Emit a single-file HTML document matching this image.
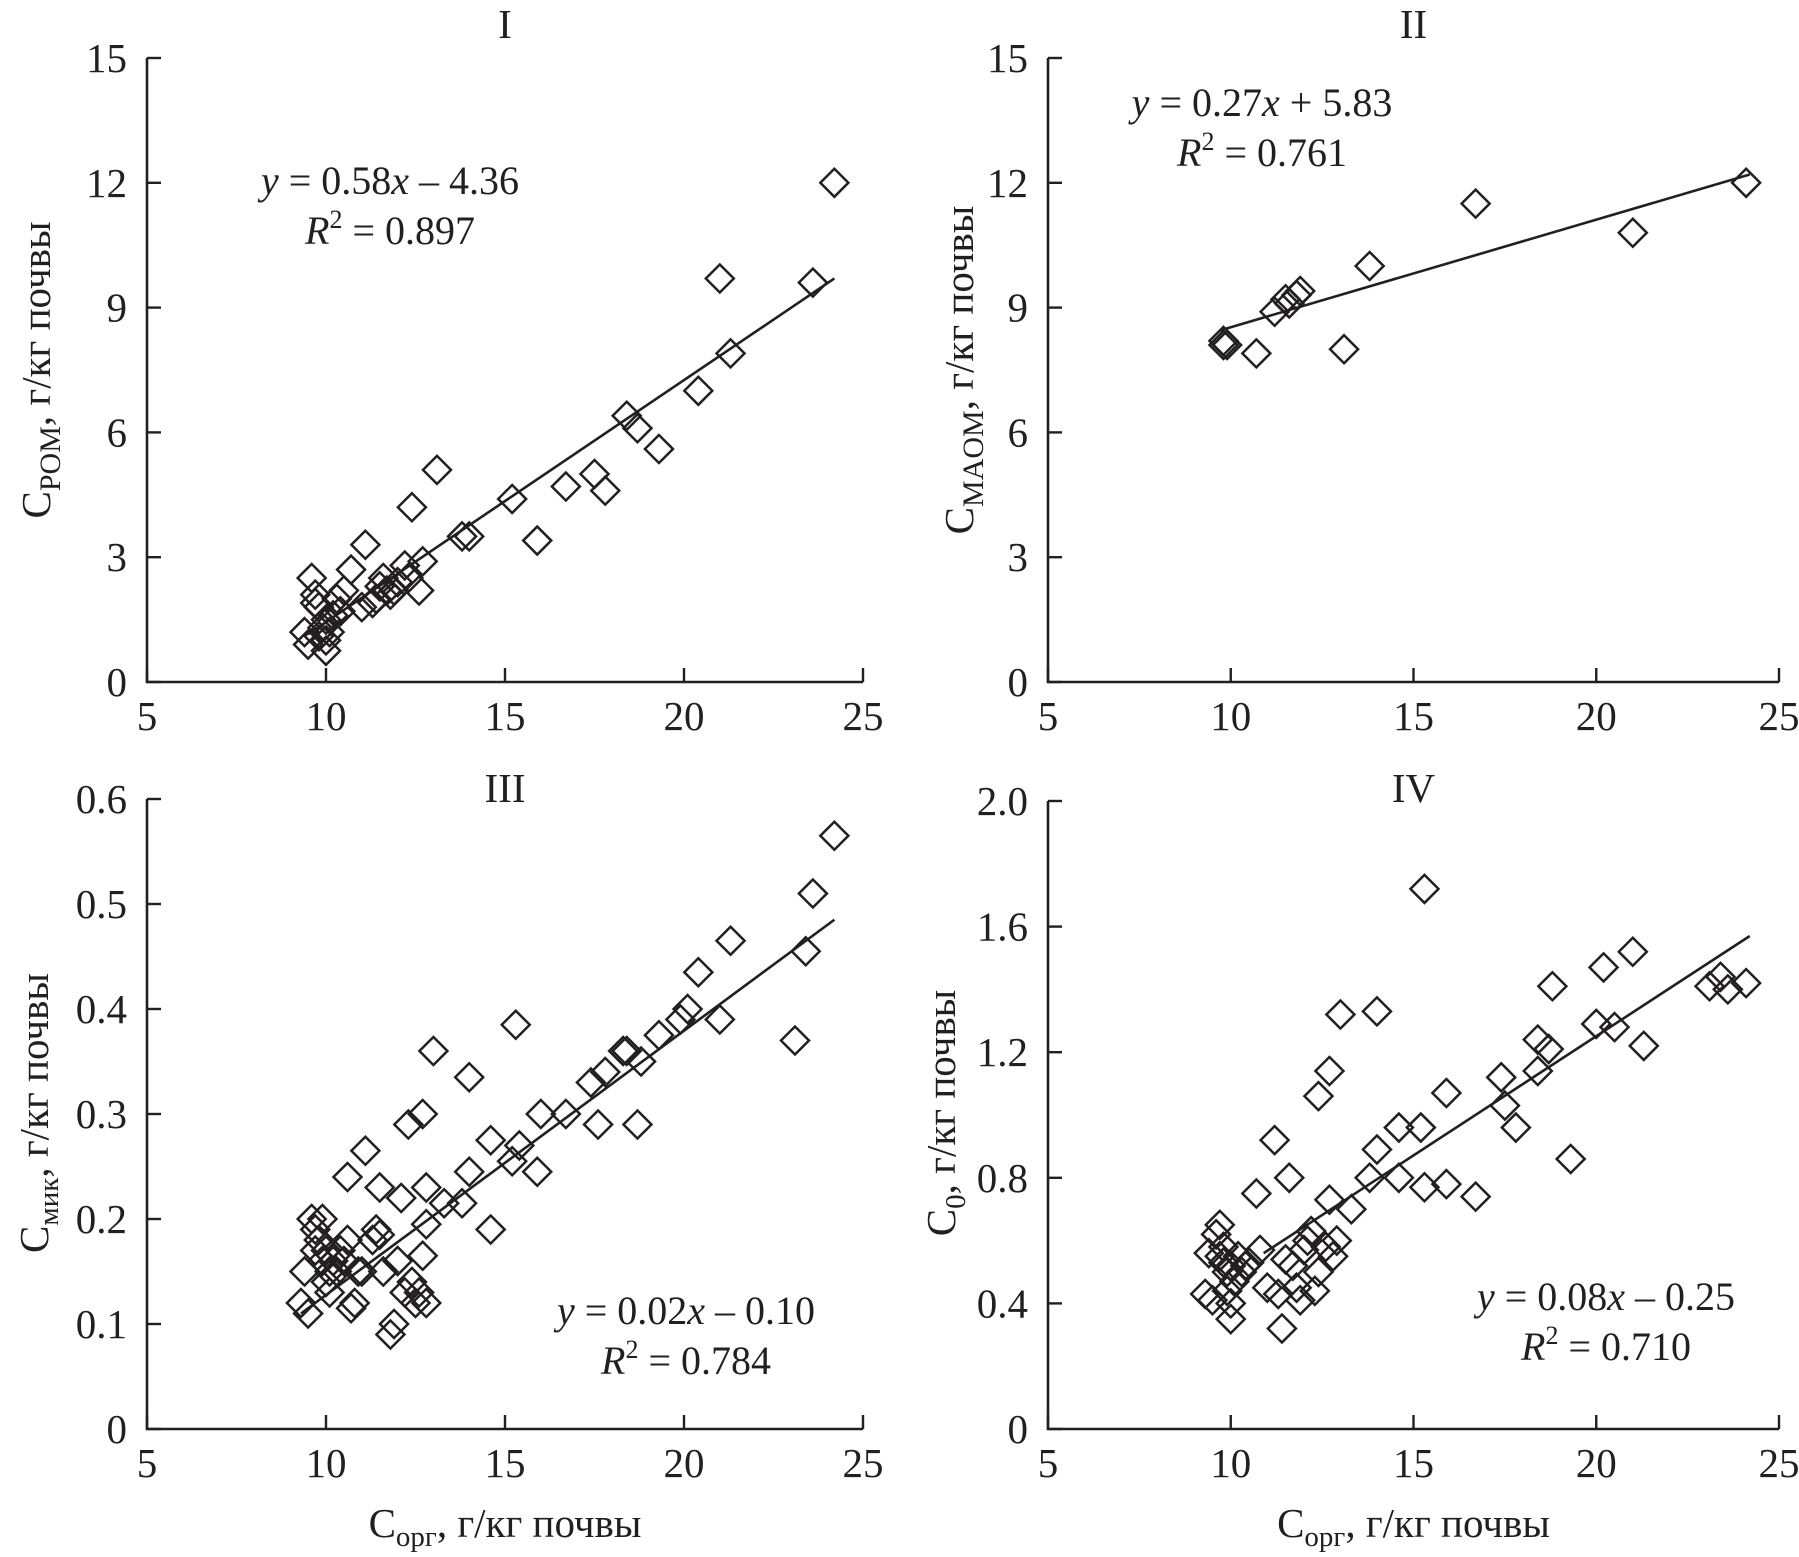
<!DOCTYPE html>
<html><head><meta charset="utf-8"><style>
html,body{margin:0;padding:0;background:#fff;}
svg{display:block;font-family:"Liberation Serif",serif;}
</style></head><body>
<svg id="chart" width="1799" height="1557" viewBox="0 0 1799 1557" xmlns="http://www.w3.org/2000/svg"></svg>
<script>
// ---- data ----
const xTicks = [5, 10, 15, 20, 25];
const yTicksI = [0, 3, 6, 9, 12, 15];
const yTicksII = [0, 3, 6, 9, 12, 15];
const yTicksIII = [0, 0.1, 0.2, 0.3, 0.4, 0.5, 0.6];
const yTicksIV = [0, 0.4, 0.8, 1.2, 1.6, 2.0];
const yLabelsIII = ["0", "0.1", "0.2", "0.3", "0.4", "0.5", "0.6"];
const yLabelsIV = ["0", "0.4", "0.8", "1.2", "1.6", "2.0"];

const xI = [9.4,9.5,9.6,9.7,9.7,9.8,9.8,9.9,10.0,10.0,10.0,10.1,10.2,10.3,10.4,10.5,10.7,11.0,11.1,11.3,11.4,11.5,11.6,11.7,11.8,11.9,12.0,12.2,12.3,12.4,12.6,12.7,13.1,13.8,14.0,15.2,15.9,16.7,17.5,17.8,18.4,18.7,19.3,20.4,21.0,21.3,23.6,24.2];
const yI = [1.2,0.9,2.5,1.9,2.1,1.8,1.1,1.3,0.75,1.0,1.5,1.2,1.6,2.0,1.7,2.2,2.7,1.8,3.3,1.9,2.0,2.3,2.5,2.2,2.1,2.2,2.4,2.8,2.5,4.2,2.2,2.9,5.1,3.5,3.5,4.4,3.4,4.7,5.0,4.6,6.4,6.1,5.6,7.0,9.7,7.9,9.6,12.0];
const lineXI = [9.5, 24.2];
const lineYI = [1.15, 9.7];

const xII = [9.8,9.8,9.9,10.7,11.2,11.5,11.6,11.8,11.9,13.1,13.8,16.7,21.0,24.1];
const yII = [8.1,8.2,8.1,7.9,8.9,9.2,9.1,9.3,9.4,8.0,10.0,11.5,10.8,12.0];
const lineXII = [9.7, 24.2];
const lineYII = [8.45, 12.2];

const xIII = [9.3,9.4,9.5,9.6,9.7,9.7,9.8,9.9,9.9,10.0,10.0,10.1,10.1,10.2,10.3,10.4,10.5,10.6,10.6,10.7,10.8,10.9,11.0,11.1,11.3,11.4,11.5,11.5,11.6,11.8,11.9,12.0,12.1,12.2,12.3,12.4,12.5,12.6,12.7,12.7,12.8,12.8,12.8,13.0,13.3,13.8,14.0,14.0,14.6,14.6,15.2,15.3,15.4,15.9,16.0,16.7,17.4,17.6,17.8,18.3,18.4,18.7,18.8,19.3,19.9,20.1,20.4,21.0,21.3,23.1,23.4,23.6,24.2];
const yIII = [0.12,0.15,0.11,0.2,0.19,0.17,0.18,0.16,0.2,0.14,0.17,0.15,0.13,0.16,0.15,0.17,0.16,0.18,0.24,0.115,0.12,0.15,0.15,0.265,0.18,0.19,0.185,0.23,0.15,0.09,0.1,0.16,0.22,0.13,0.29,0.14,0.12,0.13,0.3,0.165,0.23,0.195,0.12,0.36,0.215,0.215,0.335,0.245,0.19,0.275,0.255,0.385,0.27,0.245,0.3,0.3,0.33,0.29,0.34,0.36,0.36,0.29,0.35,0.375,0.39,0.4,0.435,0.39,0.465,0.37,0.455,0.51,0.565];
const lineXIII = [9.3, 24.2];
const lineYIII = [0.11, 0.485];

const xIV = [9.3,9.4,9.5,9.6,9.7,9.7,9.8,9.8,9.9,9.9,10.0,10.0,10.0,10.1,10.2,10.3,10.4,10.5,10.7,10.8,11.0,11.2,11.3,11.4,11.5,11.6,11.7,11.8,11.9,12.0,12.1,12.2,12.3,12.4,12.4,12.6,12.7,12.7,12.8,12.9,13.0,13.3,13.8,14.0,14.0,14.6,14.6,15.2,15.3,15.3,15.9,15.9,16.7,17.4,17.5,17.8,18.4,18.4,18.7,18.8,19.3,20.0,20.2,20.5,21.0,21.3,23.1,23.4,23.6,24.1];
const yIV = [0.43,0.56,0.41,0.62,0.65,0.55,0.53,0.58,0.5,0.44,0.35,0.4,0.52,0.47,0.55,0.5,0.52,0.53,0.75,0.57,0.45,0.92,0.43,0.32,0.54,0.8,0.52,0.45,0.41,0.57,0.6,0.63,0.44,1.06,0.5,0.58,1.14,0.73,0.55,0.6,1.32,0.7,0.8,0.89,1.33,0.8,0.96,0.96,1.72,0.77,0.78,1.07,0.74,1.12,1.03,0.96,1.14,1.24,1.21,1.41,0.86,1.29,1.47,1.28,1.52,1.22,1.41,1.44,1.4,1.42];
const lineXIV = [10.9, 24.2];
const lineYIV = [0.56, 1.57];

// ---- drawing ----
const NS = "http://www.w3.org/2000/svg";
const svg = document.getElementById("chart");
function mk(tag, attrs, parent) {
  const e = document.createElementNS(NS, tag);
  for (const k in attrs) e.setAttribute(k, attrs[k]);
  (parent || svg).appendChild(e);
  return e;
}

function panel(cfg) {
  const g = mk("g", {});
  
  
  const sx = v => cfg.x0 + (v - cfg.xmin) / (cfg.xmax - cfg.xmin) * (cfg.x1 - cfg.x0);
  const sy = v => cfg.y0 - (v - cfg.ymin) / (cfg.ymax - cfg.ymin) * (cfg.y0 - cfg.y1);
  const ax = mk("path", {d: `M${cfg.x0} ${cfg.y1} V${cfg.y0} H${cfg.x1}`, fill: "none", stroke: "#231f20", "stroke-width": 2.6}, g);
  
  
  cfg.xt.forEach(v => {
    const t = mk("line", {x1: sx(v), x2: sx(v), y1: cfg.y0, y2: cfg.y0 - 14, stroke: "#231f20", "stroke-width": 2.4}, g);
    
    
    const l = mk("text", {x: sx(v), y: cfg.y0 + 48, "text-anchor": "middle", "font-size": 41, fill: "#231f20"}, g);
    l.textContent = v;
    
    
  });
  cfg.yt.forEach((v, i) => {
    const t = mk("line", {x1: cfg.x0, x2: cfg.x0 + 14, y1: sy(v), y2: sy(v), stroke: "#231f20", "stroke-width": 2.4}, g);
    
    
    const l = mk("text", {x: cfg.x0 - 20, y: sy(v) + 14, "text-anchor": "end", "font-size": 41, fill: "#231f20"}, g);
    l.textContent = cfg.yl ? cfg.yl[i] : v;
    
    
  });
  const tl = mk("line", {x1: sx(cfg.lx[0]), y1: sy(cfg.ly[0]), x2: sx(cfg.lx[1]), y2: sy(cfg.ly[1]), stroke: "#231f20", "stroke-width": 2.6}, g);
  
  
  const r = 14;
  cfg.xs.forEach((xv, i) => {
    const cx = sx(xv), cy = sy(cfg.ys[i]);
    const p = mk("path", {d: `M${cx} ${cy - r} L${cx + r} ${cy} L${cx} ${cy + r} L${cx - r} ${cy} Z`, fill: "none", stroke: "#231f20", "stroke-width": 2.5}, g);
    
    
  });
  const tt = mk("text", {x: (cfg.x0 + cfg.x1) / 2, y: cfg.ty, "text-anchor": "middle", "font-size": 41, fill: "#231f20"}, g);
  tt.textContent = cfg.title;
  
  
  const e1 = mk("text", {x: cfg.ex, y: cfg.ey, "text-anchor": "middle", "font-size": 40, fill: "#231f20"}, g);
  e1.innerHTML = `<tspan font-style="italic">y</tspan> = ${cfg.eq[0]}<tspan font-style="italic">x</tspan> ${cfg.eq[1]}`;
  
  
  const e2 = mk("text", {x: cfg.ex, y: cfg.ey + 50, "text-anchor": "middle", "font-size": 40, fill: "#231f20"}, g);
  e2.innerHTML = `<tspan font-style="italic">R</tspan><tspan font-size="26" dy="-16">2</tspan><tspan dy="16"> = ${cfg.eq[2]}</tspan>`;
  
  
  const yt = mk("text", {transform: `translate(${cfg.ytx},${cfg.yty}) rotate(-90)`, "text-anchor": "middle", "font-size": 41, fill: "#231f20"}, g);
  yt.innerHTML = `C<tspan font-size="${cfg.subSize}" dy="10">${cfg.sub}</tspan><tspan dy="-10">, г/кг почвы</tspan>`;
  
  
  if (cfg.xtitle) {
    const xtt = mk("text", {x: (cfg.x0 + cfg.x1) / 2, y: 1537, "text-anchor": "middle", "font-size": 41, fill: "#231f20"}, g);
    xtt.innerHTML = `C<tspan font-size="29" dy="9">орг</tspan><tspan dy="-9">, г/кг почвы</tspan>`;
    
    
  }
}

panel({name: "panel-i", x0: 147, x1: 863, xmin: 5, xmax: 25, y0: 682, y1: 58, ymin: 0, ymax: 15,
  xt: xTicks, yt: yTicksI, xs: xI, ys: yI, lx: lineXI, ly: lineYI, title: "I", ty: 38,
  eq: ["0.58", "– 4.36", "0.897"], ex: 390, ey: 194, sub: "POM", subSize: 30, ytx: 50, yty: 370});
panel({name: "panel-ii", x0: 1048, x1: 1779, xmin: 5, xmax: 25, y0: 682, y1: 58, ymin: 0, ymax: 15,
  xt: xTicks, yt: yTicksII, xs: xII, ys: yII, lx: lineXII, ly: lineYII, title: "II", ty: 38,
  eq: ["0.27", "+ 5.83", "0.761"], ex: 1262, ey: 116, sub: "MAOM", subSize: 30, ytx: 973, yty: 370});
panel({name: "panel-iii", x0: 147, x1: 863, xmin: 5, xmax: 25, y0: 1429, y1: 799, ymin: 0, ymax: 0.6,
  xt: xTicks, yt: yTicksIII, yl: yLabelsIII, xs: xIII, ys: yIII, lx: lineXIII, ly: lineYIII, title: "III", ty: 802,
  eq: ["0.02", "– 0.10", "0.784"], ex: 686, ey: 1324, sub: "мик", subSize: 29, ytx: 48, yty: 1113, xtitle: true});
panel({name: "panel-iv", x0: 1048, x1: 1779, xmin: 5, xmax: 25, y0: 1429, y1: 801, ymin: 0, ymax: 2.0,
  xt: xTicks, yt: yTicksIV, yl: yLabelsIV, xs: xIV, ys: yIV, lx: lineXIV, ly: lineYIV, title: "IV", ty: 802,
  eq: ["0.08", "– 0.25", "0.710"], ex: 1606, ey: 1310, sub: "0", subSize: 29, ytx: 955, yty: 1113, xtitle: true});
</script>
</body></html>
